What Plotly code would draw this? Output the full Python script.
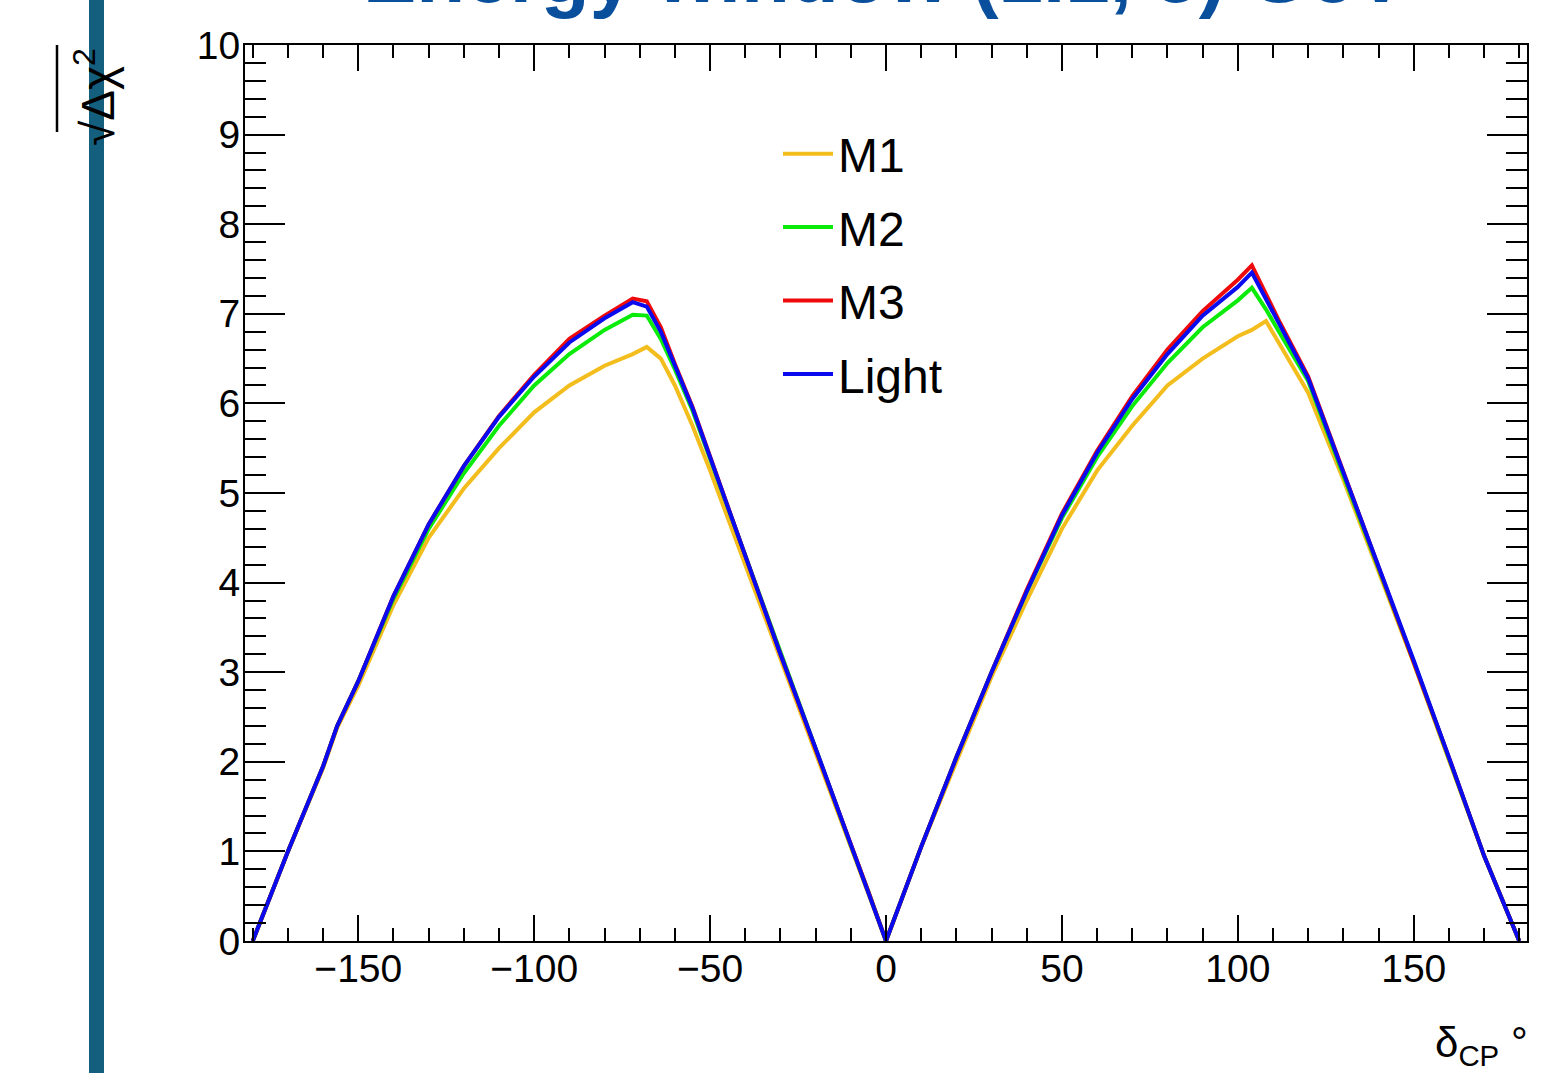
import plotly.graph_objects as go

# ---------------- data ----------------
delta_cp = [-180, -170, -160, -156, -150, -140, -130, -120, -110, -100, -90, -80, -72, -68, -64, -60, -55, -50,
            -40, -30, -20, -10, -5, 0, 10, 20, 30, 40, 50, 60, 70, 80, 90, 100, 104, 108, 112, 120, 130, 140,
            147, 150, 160, 170, 180]

m1 = [0, 1.0, 1.93, 2.38, 2.85, 3.75, 4.5, 5.05, 5.5, 5.9, 6.2, 6.42, 6.55, 6.63, 6.5, 6.2, 5.75, 5.25,
      4.2, 3.15, 2.1, 1.05, 0.55, 0, 1.05, 2.0, 2.95, 3.8, 4.6, 5.25, 5.75, 6.2, 6.5, 6.75, 6.82, 6.92, 6.66,
      6.12, 5.15, 4.12, 3.42, 3.1, 2.02, 0.95, 0]
m2 = [0, 1.0, 1.95, 2.4, 2.9, 3.82, 4.6, 5.22, 5.75, 6.2, 6.55, 6.82, 6.99, 6.98, 6.72, 6.38, 5.92, 5.38,
      4.28, 3.2, 2.15, 1.07, 0.55, 0, 1.05, 2.05, 3.0, 3.9, 4.72, 5.4, 5.97, 6.45, 6.85, 7.15, 7.29, 7.05, 6.78,
      6.25, 5.2, 4.16, 3.44, 3.12, 2.04, 0.95, 0]
m3 = [0, 1.0, 1.95, 2.4, 2.9, 3.85, 4.65, 5.3, 5.86, 6.32, 6.72, 6.98, 7.17, 7.14, 6.85, 6.44, 5.96, 5.4,
      4.3, 3.2, 2.15, 1.07, 0.55, 0, 1.05, 2.05, 3.0, 3.92, 4.77, 5.47, 6.08, 6.6, 7.03, 7.38, 7.54, 7.22, 6.9,
      6.3, 5.24, 4.18, 3.45, 3.13, 2.05, 0.95, 0]
light = [0, 1.0, 1.95, 2.4, 2.9, 3.85, 4.65, 5.3, 5.85, 6.3, 6.68, 6.95, 7.13, 7.08, 6.8, 6.42, 5.95, 5.4,
         4.3, 3.2, 2.15, 1.07, 0.55, 0, 1.05, 2.05, 3.0, 3.9, 4.75, 5.45, 6.05, 6.55, 6.98, 7.3, 7.46, 7.17, 6.87,
         6.28, 5.23, 4.18, 3.45, 3.13, 2.05, 0.95, 0]

series_names = ["M1", "M2", "M3", "Light"]
series_values = [m1, m2, m3, light]
series_colors = ["#f2bd1d", "#0aeb0a", "#ee0a0a", "#0a0aee"]

x_tickvals = [-150, -100, -50, 0, 50, 100, 150]
y_tickvals = [0, 1, 2, 3, 4, 5, 6, 7, 8, 9, 10]

title_text = "Energy window (1.1, 5) GeV"

# ---------------- layout geometry ----------------
W, H = 1562, 1073
L, R, T, B = 245, 1527, 45, 941


def px(x):
    return (x - L) / (R - L)


def py(y):
    return (B - y) / (B - T)


FONT = "Liberation Sans, Arial, Helvetica, sans-serif"

fig = go.Figure()
for name, vals, col in zip(series_names, series_values, series_colors):
    fig.add_trace(go.Scatter(x=delta_cp, y=vals, mode="lines", name=name, legendgroup=name,
                             line=dict(color=col, width=4)))

axis_common = dict(
    showline=True, linecolor="black", linewidth=2, mirror="allticks",
    ticks="inside", tickcolor="black", tickwidth=2,
    showgrid=False, zeroline=False,
    tickfont=dict(family=FONT, size=39, color="black"),
)

fig.update_xaxes(range=[-182.2, 182.2], tickvals=x_tickvals, ticklen=26, ticklabelstandoff=-8,
                 minor=dict(dtick=10, tick0=0, ticklen=13, tickwidth=2, tickcolor="black", ticks="inside"),
                 **axis_common)
fig.update_yaxes(range=[0, 10], tickvals=y_tickvals, ticklen=40, ticklabelstandoff=-5,
                 minor=dict(dtick=0.2, tick0=0, ticklen=21, tickwidth=2, tickcolor="black", ticks="inside"),
                 **axis_common)

fig.update_layout(
    width=W, height=H,
    margin=dict(l=L, r=W - R, t=T, b=H - B, pad=0),
    paper_bgcolor="white", plot_bgcolor="white",
    showlegend=True,
    legend=dict(x=px(778), y=py(116), xanchor="left", yanchor="top",
                font=dict(family=FONT, size=48, color="black"),
                bgcolor="rgba(0,0,0,0)", tracegroupgap=8, itemwidth=50),
    annotations=[
        dict(text="<b>" + title_text + "</b>", xref="paper", yref="paper", x=px(885), y=py(21),
             xanchor="center", yanchor="bottom", showarrow=False,
             font=dict(family=FONT, size=80, color="#0a4f9c")),
        dict(text="√Δχ<sup>2</sup>", xref="paper", yref="paper", x=px(95), y=py(97),
             xanchor="center", yanchor="middle", textangle=-90, showarrow=False,
             font=dict(family=FONT, size=46, color="black")),
        dict(text="δ<sub>CP</sub> °", xref="paper", yref="paper", x=px(1530), y=py(1045),
             xanchor="right", yanchor="middle", showarrow=False,
             font=dict(family=FONT, size=42, color="black")),
    ],
    shapes=[
        dict(type="line", xref="paper", yref="paper", x0=px(57), x1=px(57), y0=py(45), y1=py(132),
             line=dict(color="black", width=2.5)),
        dict(type="rect", xref="paper", yref="paper", x0=px(89), x1=px(104), y0=py(0), y1=py(1073),
             fillcolor="#145f7d", line=dict(width=0), layer="above"),
    ],
)

fig.write_html("out.html")
